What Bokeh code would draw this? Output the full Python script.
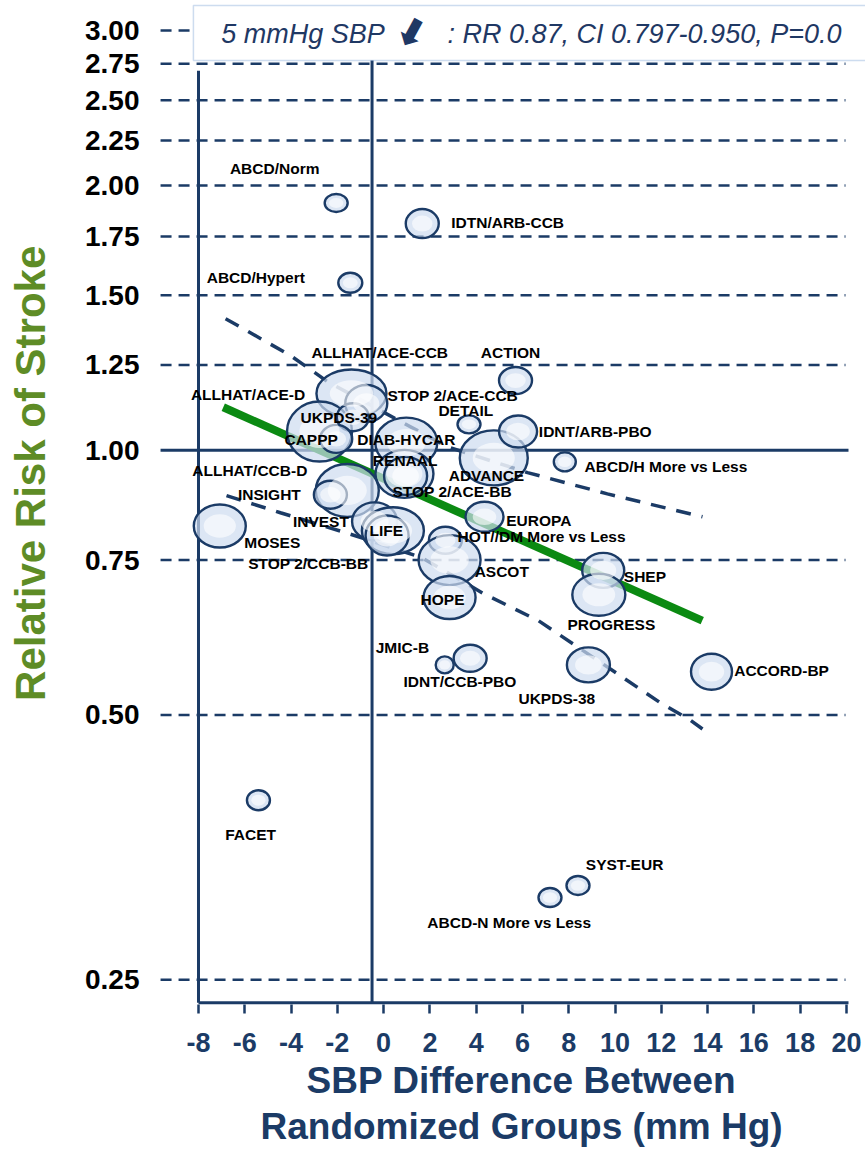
from bokeh.plotting import figure
from bokeh.models import (ColumnDataSource, Range1d, FixedTicker, PrintfTickFormatter,
                          BoxAnnotation, Label, Title)
from bokeh.core.properties import value
from bokeh.embed import file_html
from bokeh.resources import INLINE

# Trials: SBP difference between randomized groups (mm Hg) and relative risk of stroke
trials = [
    "ABCD/Norm", "IDTN/ARB-CCB", "ABCD/Hypert", "ACTION", "ALLHAT/ACE-CCB",
    "STOP 2/ACE-CCB", "ALLHAT/ACE-D", "UKPDS-39", "CAPPP", "DIAB-HYCAR",
    "RENAAL", "STOP 2/ACE-BB", "ALLHAT/CCB-D", "INSIGHT", "MOSES",
    "INVEST", "LIFE", "STOP 2/CCB-BB", "HOT//DM More vs Less", "ASCOT",
    "HOPE", "EUROPA", "ADVANCE", "IDNT/ARB-PBO", "DETAIL",
    "ABCD/H More vs Less", "SHEP", "PROGRESS", "JMIC-B", "IDNT/CCB-PBO",
    "UKPDS-38", "ACCORD-BP", "FACET", "ABCD-N More vs Less", "SYST-EUR",
]
sbp_diff = [
    -2.05, 1.67, -1.44, 5.70, -1.39,
    -0.75, -2.77, -1.33, -2.05, 0.98,
    0.90, 0.95, -1.57, -2.30, -7.08,
    -0.39, 0.40, 0.15, 2.67, 2.85,
    2.85, 4.36, 4.76, 5.81, 3.69,
    7.83, 9.49, 9.30, 2.64, 3.74,
    8.85, 14.17, -5.41, 7.19, 8.40,
]
rel_risk = [
    1.91, 1.81, 1.55, 1.20, 1.16,
    1.13, 1.05, 1.09, 1.03, 1.02,
    0.94, 0.935, 0.90, 0.89, 0.82,
    0.83, 0.81, 0.80, 0.79, 0.75,
    0.68, 0.84, 0.98, 1.05, 1.07,
    0.97, 0.73, 0.685, 0.57, 0.58,
    0.57, 0.56, 0.40, 0.31, 0.32,
]

# Meta-regression line and its confidence band
fit_x = [-6.93, 13.77]
fit_rr = [1.119, 0.640]
ci_upper_x = [-6.83, -4.02, -2.43, 0.51, 2.76, 6.22, 9.67, 13.78]
ci_upper_rr = [1.411, 1.281, 1.197, 1.086, 1.009, 0.943, 0.892, 0.840]
ci_lower_x = [-6.79, -4.46, -1.65, 1.64, 4.32, 6.69, 9.07, 11.97, 13.22, 13.78]
ci_lower_rr = [0.888, 0.849, 0.806, 0.755, 0.687, 0.640, 0.581, 0.516, 0.494, 0.482]

x_ticks = [-8, -6, -4, -2, 0, 2, 4, 6, 8, 10, 12, 14, 16, 18, 20]
y_ticks = [0.25, 0.50, 0.75, 1.00, 1.25, 1.50, 1.75, 2.00, 2.25, 2.50, 2.75, 3.00]

# Bubble sizes (screen px) and label placement
bubble_w = [23, 33, 24, 33, 70, 42, 65, 32, 32, 62, 58, 43, 63, 33, 52,
            45, 62, 43, 33, 62, 52, 38, 68, 38, 23, 22, 42, 53, 18, 33,
            43, 41, 23, 23, 23]
bubble_h = [18, 29, 20, 27, 48, 37, 60, 28, 28, 50, 48, 38, 53, 28, 43,
            38, 47, 40, 27, 50, 43, 30, 55, 32, 18, 19, 35, 42, 17, 27,
            35, 36, 20, 19, 19]
label_dx = [-61.5, 29, -94.5, -5, 28.3, 86.5, -71.5, -14, -25, 0,
            0.7, 46.6, -97.5, -61, 52.5, -53.7, -6.5, -78.7, 96.2, 52.2,
            -7, 21.7, -7.3, 20.8, -3.2, 19.7, 20.6, 12.5, -42.3, -10.2,
            -31.6, 22.7, -7.8, -40.8, 46.6]
label_dy = [-35, -1, -5, -28.3, -40.6, -8.4, -37, 0, 1, -2.7,
            -13, 15.8, -20, -0.6, 16, 0.4, 0, 28.4, -3.3, 11.7,
            1.6, 3.3, 17.7, 0, -13.5, 4.7, 6, 30, -17, 23.7,
            33.7, -0.8, 34, 24.6, -21]
label_align = ["center", "left", "center", "center", "center",
               "center", "center", "center", "center", "center",
               "center", "center", "center", "center", "center",
               "center", "center", "center", "center", "center",
               "center", "left", "center", "left", "center",
               "left", "left", "center", "center", "center",
               "center", "left", "center", "center", "center"]

NAVY = "#1b3b66"
GREEN = "#0b8a12"
BOX_TEXT = "#1f3864"
FONT = "Liberation Sans"

p = figure(width=865, height=1151,
           x_range=Range1d(-9.7286, 20.825), y_range=Range1d(0.2343, 3.2457),
           y_axis_type="log", output_backend="svg", toolbar_location=None,
           min_border_left=158, min_border_right=0, min_border_top=0,
           min_border_bottom=147)
p.grid.visible = False
p.outline_line_color = None
p.background_fill_color = "white"
p.border_fill_color = "white"

# x axis: ticks and labels only, the axis line is drawn as a segment
xa = p.xaxis[0]
xa.ticker = FixedTicker(ticks=x_ticks)
xa.formatter = PrintfTickFormatter(format="%d")
xa.axis_line_color = None
xa.major_tick_in = 0
xa.major_tick_out = 9
xa.major_tick_line_width = 2.5
xa.major_tick_line_color = NAVY
xa.minor_tick_line_color = None
xa.major_label_text_font = FONT
xa.major_label_text_font_style = "bold"
xa.major_label_text_font_size = "27px"
xa.major_label_text_color = NAVY
xa.major_label_standoff = 19

ya = p.yaxis[0]
ya.ticker = FixedTicker(ticks=y_ticks)
ya.formatter = PrintfTickFormatter(format="%.2f")
ya.axis_line_color = None
ya.major_tick_in = 0
ya.major_tick_out = 0
ya.major_tick_line_color = None
ya.minor_tick_line_color = None
ya.major_label_text_font = FONT
ya.major_label_text_font_style = "bold"
ya.major_label_text_font_size = "28px"
ya.major_label_text_color = "black"
ya.major_label_standoff = 19
# leading no-break spaces lift the centred title a little along the axis
ya.axis_label = "\u00a0" * 5 + "Relative Risk of Stroke"
ya.axis_label_standoff = 28
ya.axis_label_text_font = FONT
ya.axis_label_text_font_style = "bold"
ya.axis_label_text_font_size = "42px"
ya.axis_label_text_color = "#5e8c26"

# x axis title, two lines
p.add_layout(Title(text="SBP Difference Between", align="left", offset=148,
                   standoff=6, text_font=FONT, text_font_style="bold",
                   text_font_size="37px", text_color=NAVY), "below")
p.add_layout(Title(text="Randomized Groups (mm Hg)", align="left", offset=102,
                   standoff=0, text_font=FONT, text_font_style="bold",
                   text_font_size="37px", text_color=NAVY), "below")

# reference grid
dashed = [v for v in y_ticks if v != 1.0]
p.segment(x0=[-9.64] * len(dashed), y0=dashed, x1=[19.96] * len(dashed), y1=dashed,
          line_color=NAVY, line_width=2.5, line_dash="11 7")
p.segment(x0=[-9.64], y0=[1.0], x1=[20.09], y1=[1.0], line_color=NAVY, line_width=3)
p.segment(x0=[-8, -0.5], y0=[2.70, 3.2], x1=[-8, -0.5], y1=[0.2353, 0.2353],
          line_color=NAVY, line_width=3)
p.segment(x0=[-8], y0=[0.2353], x1=[20.09], y1=[0.2353], line_color=NAVY, line_width=3.2)

# confidence band and regression line
p.line(ci_upper_x, ci_upper_rr, line_color=NAVY, line_width=3.5, line_dash="15 11")
p.line(ci_lower_x, ci_lower_rr, line_color=NAVY, line_width=3.5, line_dash="15 11")
p.line(fit_x, fit_rr, line_color=GREEN, line_width=8)

src = ColumnDataSource(dict(
    x=sbp_diff, y=rel_risk, name=trials,
    w=bubble_w, h=bubble_h,
    wi=[v * 0.62 for v in bubble_w], hi=[v * 0.55 for v in bubble_h],
    dx=label_dx, dy=label_dy, align=label_align,
))
p.ellipse(x="x", y="y", width="w", height="h", width_units="screen",
          height_units="screen", source=src, fill_color="#cddcf0", fill_alpha=0.7,
          line_color=NAVY, line_width=2.4)
p.ellipse(x="x", y="y", width="wi", height="hi", width_units="screen",
          height_units="screen", source=src, fill_color="white", fill_alpha=0.6,
          line_color=None)
p.text(x="x", y="y", text="name", x_offset="dx", y_offset="dy", text_align="align",
       text_baseline="middle", source=src, text_font=value(FONT),
       text_font_style="bold", text_font_size="15.5px", text_color="black")

# summary box
p.add_layout(BoxAnnotation(left=-8.22, right=21.5, bottom=2.774, top=3.203,
                           fill_color="white", fill_alpha=1.0,
                           line_color="#5b8bc9", line_width=1.5))
p.add_layout(Label(x=-7.02, y=2.977, text="5 mmHg SBP", text_font=FONT,
                   text_font_style="italic", text_font_size="27px",
                   text_color=BOX_TEXT, text_baseline="middle"))
p.add_layout(Label(x=1.205, y=2.981, text="\u2b07", angle=-0.5, text_font="DejaVu Sans",
                   text_font_style="bold", text_font_size="38px",
                   text_color=BOX_TEXT, text_baseline="middle", text_align="center"))
p.add_layout(Label(x=2.76, y=2.977, text=": RR 0.87, CI 0.797-0.950, P=0.0",
                   text_font=FONT, text_font_style="italic", text_font_size="27px",
                   text_color=BOX_TEXT, text_baseline="middle"))

open("out.html", "w").write(file_html(p, INLINE))
